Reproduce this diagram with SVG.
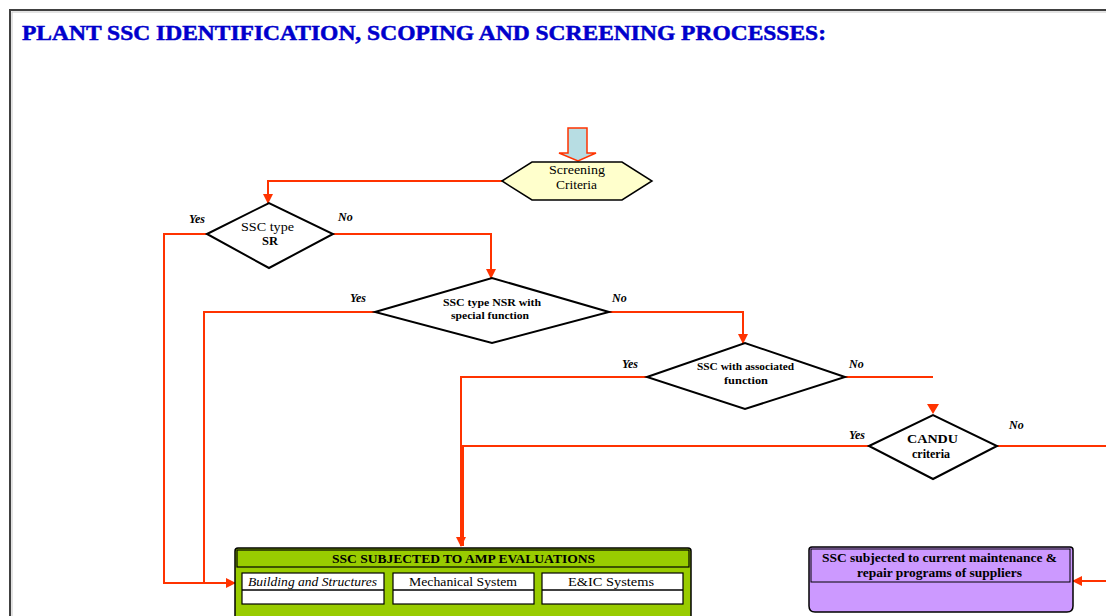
<svg xmlns="http://www.w3.org/2000/svg" width="1106" height="616" viewBox="0 0 1106 616">
<style>
.t{font-family:"Liberation Serif","Times New Roman",serif;fill:#000}
.b{font-weight:bold}
.lab{font-family:"Liberation Serif","Times New Roman",serif;font-style:italic;font-weight:bold;font-size:12px;fill:#000}
.c{fill:none;stroke:#ff3300;stroke-width:2}
.d{fill:#fff;stroke:#000;stroke-width:2}
.cell{fill:#fff;stroke:#000;stroke-width:1.2}
</style>
<defs>
<marker id="ah" viewBox="0 0 10 10" refX="9" refY="5" markerWidth="5" markerHeight="5" orient="auto" markerUnits="strokeWidth">
<path d="M0,0 L10,5 L0,10 z" fill="#ff3300"/>
</marker>
</defs>
<rect x="0" y="0" width="1106" height="616" fill="#fff"/>
<rect x="10" y="10" width="1200" height="700" fill="none" stroke="#404040" stroke-width="2"/>
<rect x="12" y="12" width="1200" height="700" fill="none" stroke="#c8c8c8" stroke-width="1"/>
<text x="22" y="40" font-family="Liberation Serif,Times New Roman,serif" font-weight="bold" font-size="21" fill="#0000cc" stroke="#0000cc" stroke-width="0.5" textLength="804" lengthAdjust="spacingAndGlyphs">PLANT SSC IDENTIFICATION, SCOPING AND SCREENING PROCESSES:</text>

<g id="connectors">
<polyline class="c" points="502,181 268,181 268,203" marker-end="url(#ah)"/>
<polyline class="c" points="207,234 164,234 164,583 235,583" marker-end="url(#ah)"/>
<polyline class="c" points="333,234 491,234 491,278" marker-end="url(#ah)"/>
<polyline class="c" points="375,312 204,312 204,583"/>
<polyline class="c" points="609,312 743,312 743,343" marker-end="url(#ah)"/>
<polyline class="c" points="647,377 461,377 461,546" marker-end="url(#ah)"/>
<polyline class="c" points="845,377 933,377"/>
<path d="M927,404 L939,404 L933,414 z" fill="#ff3300"/>
<polyline class="c" points="869,446 463,446 463,546"/>
<polyline class="c" points="997,446 1106,446"/>
<polyline class="c" points="1106,581 1073,581" marker-end="url(#ah)"/>
</g>

<g id="start-arrow">
<polygon points="568,128 587,128 587,153 596,153 578,161 559,153 568,153" fill="#b7dde3" stroke="#ff3300" stroke-width="1.5"/>
</g>

<g id="screening">
<polygon points="502,181 532,162 622,162 652,181 622,200 532,200" fill="#ffffcc" stroke="#000" stroke-width="1.5"/>
<text class="t" x="549" y="174" font-size="12" textLength="56" lengthAdjust="spacingAndGlyphs">Screening</text>
<text class="t" x="556" y="189" font-size="12" textLength="41" lengthAdjust="spacingAndGlyphs">Criteria</text>
</g>

<g id="d1">
<polygon class="d" points="207,234 269,203 333,234 269,268"/>
<text class="t" x="241" y="231" font-size="12" textLength="53" lengthAdjust="spacingAndGlyphs">SSC type</text>
<text class="t b" x="262" y="245" font-size="12" textLength="16" lengthAdjust="spacingAndGlyphs">SR</text>
<text class="lab" x="189" y="223">Yes</text>
<text class="lab" x="338" y="221">No</text>
</g>

<g id="d2">
<polygon class="d" points="375,312 492,278 609,312 492,343"/>
<text class="t b" x="443" y="306" font-size="11" textLength="98" lengthAdjust="spacingAndGlyphs">SSC type NSR with</text>
<text class="t b" x="451" y="319" font-size="11" textLength="78" lengthAdjust="spacingAndGlyphs">special function</text>
<text class="lab" x="350" y="302">Yes</text>
<text class="lab" x="612" y="302">No</text>
</g>

<g id="d3">
<polygon class="d" points="647,377 745,343 845,377 745,409"/>
<text class="t b" x="697" y="370" font-size="11" textLength="97" lengthAdjust="spacingAndGlyphs">SSC with associated</text>
<text class="t b" x="724" y="384" font-size="11" textLength="44" lengthAdjust="spacingAndGlyphs">function</text>
<text class="lab" x="622" y="368">Yes</text>
<text class="lab" x="849" y="368">No</text>
</g>

<g id="d4">
<polygon class="d" points="869,446 933,415 997,446 933,479"/>
<text class="t b" x="907" y="443" font-size="12" textLength="51" lengthAdjust="spacingAndGlyphs">CANDU</text>
<text class="t b" x="912" y="458" font-size="12" textLength="38" lengthAdjust="spacingAndGlyphs">criteria</text>
<text class="lab" x="849" y="439">Yes</text>
<text class="lab" x="1009" y="429">No</text>
</g>

<g id="amp">
<path d="M235,616 L235,551 Q235,548 238,548 L688,548 Q691,548 691,551 L691,616" fill="#99cc00" stroke="#000" stroke-width="1.5"/>
<rect x="237" y="550" width="452" height="17" fill="#99cc00" stroke="#000" stroke-width="1.2"/>
<text class="t b" x="332" y="563" font-size="12" textLength="263" lengthAdjust="spacingAndGlyphs">SSC SUBJECTED TO AMP EVALUATIONS</text>
<rect class="cell" x="242" y="573" width="142" height="31"/>
<line x1="242" y1="590" x2="384" y2="590" stroke="#000" stroke-width="1.5"/>
<text class="t" x="248" y="586" font-size="13" font-style="italic" textLength="129" lengthAdjust="spacingAndGlyphs">Building and Structures</text>
<rect class="cell" x="393" y="573" width="141" height="31"/>
<line x1="393" y1="590" x2="534" y2="590" stroke="#000" stroke-width="1.5"/>
<text class="t" x="409" y="586" font-size="13" textLength="108" lengthAdjust="spacingAndGlyphs">Mechanical System</text>
<rect class="cell" x="542" y="573" width="141" height="31"/>
<line x1="542" y1="590" x2="683" y2="590" stroke="#000" stroke-width="1.5"/>
<text class="t" x="568" y="586" font-size="13" textLength="86" lengthAdjust="spacingAndGlyphs">E&amp;IC Systems</text>
</g>

<g id="maint">
<path d="M809,550 Q809,547 812,547 L1070,547 Q1073,547 1073,550 L1073,606 Q1073,612 1067,612 L815,612 Q809,612 809,606 Z" fill="#cc99ff" stroke="#000" stroke-width="1.5"/>
<rect x="811" y="549" width="259" height="33" fill="none" stroke="#000" stroke-width="1"/>
<text class="t b" x="822" y="562" font-size="12" textLength="235" lengthAdjust="spacingAndGlyphs">SSC subjected to current maintenance &amp;</text>
<text class="t b" x="857" y="577" font-size="12" textLength="165" lengthAdjust="spacingAndGlyphs">repair programs of suppliers</text>
</g>
</svg>
